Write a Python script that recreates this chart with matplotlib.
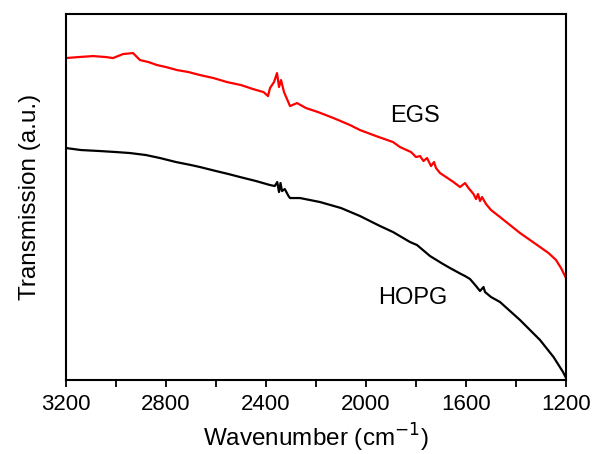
import matplotlib
matplotlib.use("Agg")
import matplotlib.pyplot as plt
from matplotlib.ticker import MultipleLocator, NullLocator

plt.rcParams["font.family"] = ["Liberation Sans", "DejaVu Sans"]

# EGS spectrum (wavenumber, transmission in arbitrary units)
egs_wn = [3200, 3150, 3092, 3040, 3012, 2972, 2932, 2904, 2870, 2836, 2800,
          2756, 2710, 2664, 2610, 2556, 2500, 2452, 2410, 2392, 2384, 2368,
          2356, 2348, 2340, 2328, 2304, 2276, 2240, 2192, 2130, 2064, 2024,
          1960, 1892, 1864, 1820, 1800, 1784, 1770, 1756, 1740, 1728, 1720,
          1704, 1680, 1650, 1624, 1604, 1590, 1570, 1560, 1552, 1544, 1536,
          1520, 1500, 1464, 1424, 1384, 1344, 1304, 1270, 1240, 1220, 1200]
egs_val = [322, 323, 324, 323, 322, 326, 327, 320, 318, 315, 313,
           310, 308, 305, 302, 298, 295, 291, 288, 284, 292, 298,
           307, 293, 300, 288, 274, 277, 272, 268, 262, 255, 250,
           244, 238, 233, 228, 223, 224, 219, 222, 214, 218, 212,
           207, 203, 198, 193, 197, 192, 186, 181, 186, 179, 183,
           176, 170, 163, 155, 147, 140, 133, 127, 120, 112, 102]

# HOPG spectrum
hopg_wn = [3200, 3140, 3064, 3000, 2944, 2880, 2824, 2760, 2700, 2664, 2600,
           2550, 2504, 2440, 2384, 2365, 2355, 2348, 2342, 2336, 2325, 2310,
           2304, 2264, 2184, 2100, 2024, 1944, 1892, 1824, 1796, 1744, 1692,
           1664, 1620, 1604, 1584, 1560, 1544, 1530, 1524, 1500, 1464, 1424,
           1384, 1344, 1304, 1250, 1212, 1200]
hopg_val = [232, 230, 229, 228, 227, 225, 222, 218, 215, 213, 209,
            206, 203, 199, 195, 194, 198, 188, 197, 189, 191, 184,
            182, 182, 178, 172, 164, 154, 148, 138, 135, 124, 116,
            112, 106, 104, 101, 94, 89, 93, 88, 83, 78, 69,
            60, 50, 40, 23, 8, 2]

fig = plt.figure(figsize=(5.93, 4.54), dpi=100)
ax = fig.add_axes([0.1113, 0.163, 0.8432, 0.806])

ax.plot(egs_wn, egs_val, color="#ff0000", linewidth=1.6)
ax.plot(hopg_wn, hopg_val, color="black", linewidth=1.6)

ax.text(1804, 264, "EGS", fontsize=17, ha="center", va="center")
ax.text(1812, 82, "HOPG", fontsize=17, ha="center", va="center")

ax.set_xlim(3200, 1200)
ax.set_ylim(0, 366)
ax.xaxis.set_major_locator(MultipleLocator(400))
ax.xaxis.set_minor_locator(MultipleLocator(200))
ax.yaxis.set_major_locator(NullLocator())
ax.tick_params(axis="x", which="both", direction="out", length=5, width=1.3,
               labelsize=16, pad=5)
for sp in ax.spines.values():
    sp.set_linewidth(1.5)

ax.set_xlabel("Wavenumber (cm$^{-1}$)", fontsize=17.5, labelpad=5)
ax.set_ylabel("Transmission (a.u.)", fontsize=17.5, labelpad=18)

fig.savefig("out.png", dpi=100)
